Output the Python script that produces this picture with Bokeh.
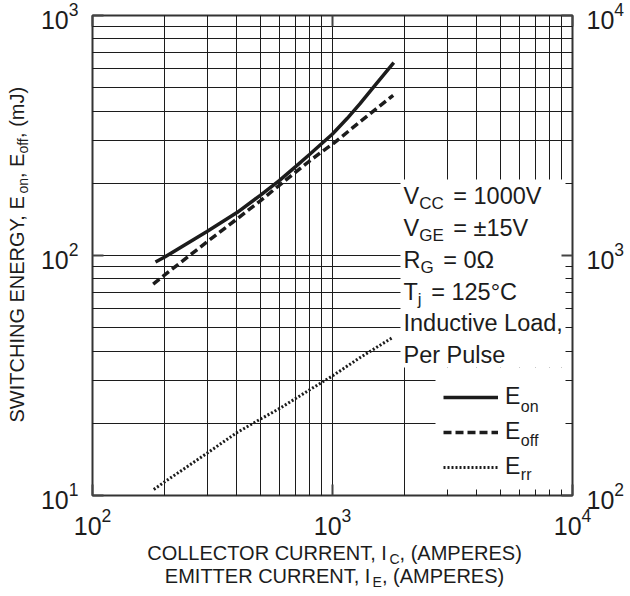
import math
from bokeh.plotting import figure
from bokeh.layouts import row, column
from bokeh.models import (Range1d, LogScale, LogAxis, BoxAnnotation, Label, Legend,
                          LegendItem, CustomJSTickFormatter, FixedTicker)
from bokeh.embed import file_html
from bokeh.resources import INLINE

# ---------------- data ----------------
I_on = [183, 200, 300, 400, 500, 600, 700, 800, 900, 1000, 1150, 1300, 1500, 1800]
E_on = [94, 98.5, 126, 151, 178, 205, 234, 263, 292, 321, 372, 428, 510, 636]

I_off = [179, 200, 300, 400, 500, 600, 700, 800, 900, 1000, 1300, 1790]
E_off = [76, 83, 114, 142, 169, 196, 222, 247, 270, 291, 360, 465]

I_rr = [180, 200, 300, 400, 500, 600, 800, 1000, 1300, 1790]
E_rr = [10.6, 11.4, 15.0, 18.3, 20.8, 23.0, 27.5, 31.5, 37.5, 45.7]

x_range = (1e2, 1e4)
y_range = (1e1, 1e3)
y2_range = (1e2, 1e4)
x_major = [1e2, 1e3, 1e4]
y_major = [1e1, 1e2, 1e3]
y2_major = [1e2, 1e3, 1e4]

conditions = [
    [("V", 0), ("CC", 1), (" = 1000V", 0)],
    [("V", 0), ("GE", 1), (" = ±15V", 0)],
    [("R", 0), ("G", 1), (" = 0Ω", 0)],
    [("T", 0), ("j", 1), (" = 125°C", 0)],
    [("Inductive Load,", 0)],
    [("Per Pulse", 0)],
]
legend_subs = ["on", "off", "rr"]
x_title = [
    [("COLLECTOR CURRENT, I", 0), ("C", 1), (", (AMPERES)", 0)],
    [("EMITTER CURRENT, I", 0), ("E", 1), (", (AMPERES)", 0)],
]
y_title = [("SWITCHING ENERGY, E", 0), ("on", 1), (", E", 0), ("off", 1), (", (mJ)", 0)]

# ---------------- style / layout ----------------
FONT = "Liberation Sans"
INK = "#1c1c1c"
W, H = 630, 596
LW = 32            # left strip (y title) width
MH = 539           # main figure height
FL, FT, FS = 92, 15, 480          # frame left, top, size on the page (px)
BASE_FIX = 0.40    # label baseline correction (fraction of font size)

ADV = {' ': 278, ',': 278, '(': 333, ')': 333, '=': 584, '±': 584, '°': 400, 'Ω': 768,
       'A': 667, 'B': 667, 'C': 722, 'D': 722, 'E': 667, 'F': 611, 'G': 778, 'H': 722,
       'I': 278, 'J': 500, 'K': 667, 'L': 556, 'M': 833, 'N': 722, 'O': 778, 'P': 667,
       'Q': 778, 'R': 722, 'S': 667, 'T': 611, 'U': 722, 'V': 667, 'W': 944, 'X': 667,
       'Y': 667, 'Z': 611, 'a': 556, 'b': 556, 'c': 500, 'd': 556, 'e': 556, 'f': 278,
       'g': 556, 'h': 556, 'i': 222, 'j': 222, 'k': 500, 'l': 222, 'm': 833, 'n': 556,
       'o': 556, 'p': 556, 'q': 556, 'r': 333, 's': 500, 't': 278, 'u': 556, 'v': 500,
       'w': 722, 'x': 500, 'y': 500, 'z': 500}


def tw(s, size):
    return sum(ADV.get(ch, 556) for ch in s) / 1000.0 * size


def X(px):
    lo, hi = math.log10(x_range[0]), math.log10(x_range[1])
    return 10 ** (lo + (px - FL) / FS * (hi - lo))


def Y(py):
    lo, hi = math.log10(y_range[0]), math.log10(y_range[1])
    return 10 ** (hi - (py - FT) / FS * (hi - lo))


def minors(majors):
    out = []
    for m in majors[:-1]:
        out += [m * k for k in range(2, 10)]
    return out


p = figure(width=W - LW, height=MH, x_axis_type="log", y_axis_type="log",
           x_range=Range1d(*x_range), y_range=Range1d(*y_range),
           output_backend="svg", toolbar_location=None,
           min_border_left=FL - LW, min_border_right=W - FL - FS,
           min_border_top=FT, min_border_bottom=MH - FT - FS,
           background_fill_color="white", border_fill_color="white")

p.extra_y_ranges = {"r": Range1d(*y2_range)}
p.extra_y_scales = {"r": LogScale()}
right_ax = LogAxis(y_range_name="r")
p.add_layout(right_ax, "right")
top_ax = LogAxis(formatter=CustomJSTickFormatter(code="return ''"))
p.add_layout(top_ax, "above")

bottom_ax = p.below[0]
left_ax = p.left[0]

xt = FixedTicker(ticks=x_major, minor_ticks=minors(x_major))
yt = FixedTicker(ticks=y_major, minor_ticks=minors(y_major))
y2t = FixedTicker(ticks=y2_major, minor_ticks=minors(y2_major))
bottom_ax.ticker = xt
top_ax.ticker = xt
left_ax.ticker = yt
right_ax.ticker = y2t


def style_axis(ax, standoff, size="25px"):
    ax.axis_line_color = None
    ax.major_tick_in = 11
    ax.major_tick_out = 0
    ax.minor_tick_in = 5
    ax.minor_tick_out = 0
    ax.major_tick_line_color = "#444444"
    ax.major_tick_line_width = 2
    ax.minor_tick_line_color = INK
    ax.minor_tick_line_width = 1
    ax.major_label_text_font = FONT
    ax.major_label_text_font_size = size
    ax.major_label_text_color = INK
    ax.major_label_standoff = standoff


style_axis(bottom_ax, 12)
style_axis(left_ax, 14)
style_axis(right_ax, 14)
style_axis(top_ax, 0, "1px")

p.xgrid[0].ticker = xt
p.ygrid[0].ticker = yt
for g in (p.xgrid[0], p.ygrid[0]):
    g.grid_line_color = INK
    g.grid_line_width = 1
    g.minor_grid_line_color = INK
    g.minor_grid_line_width = 1

p.outline_line_color = "#333333"
p.outline_line_width = 2

# white panels behind the text block and legend
for l, r, t, b in [(400, 565, 179, 367), (435, 565, 367, 489)]:
    p.add_layout(BoxAnnotation(left=X(l), right=X(r), top=Y(t), bottom=Y(b),
                               fill_color="white", fill_alpha=1.0,
                               line_color=None, level="underlay"))

# curves
r_on = p.line(I_on, E_on, line_color=INK, line_width=3.5)
r_off = p.line(I_off, E_off, line_color=INK, line_width=3.5, line_dash="8 4")
r_rr = p.line(I_rr, E_rr, line_color=INK, line_width=3, line_dash="2 2")


def rich(fig, xmap, ymap, pieces, px, py, size, sub_size, drop, angle=0, sub_gap=0,
         fix=BASE_FIX):
    for text, sub in pieces:
        fs = sub_size if sub else size
        lead = len(text) - len(text.lstrip(" "))
        if lead:
            adv = tw(" " * lead, fs)
            if angle == 0:
                px += adv
            else:
                py -= adv
            text = text.lstrip(" ")
        d = (drop if sub else 0) - fix * fs
        if angle == 0:
            lab = Label(x=xmap(px), y=ymap(py + d), text=text,
                        text_align="left", text_baseline="alphabetic")
            px += tw(text, fs) + (sub_gap if sub else 0)
        else:
            lab = Label(x=xmap(px + d), y=ymap(py), text=text,
                        angle=90, angle_units="deg",
                        text_align="left", text_baseline="alphabetic")
            py -= tw(text, fs) + (sub_gap if sub else 0)
        lab.text_font = FONT
        lab.text_font_size = f"{fs}px"
        lab.text_color = INK
        fig.add_layout(lab)


def rich_width(pieces, size, sub_size):
    return sum(tw(t, sub_size if s else size) for t, s in pieces)


# condition block
for i, pieces in enumerate(conditions):
    rich(p, X, Y, pieces, 403, 205 + i * 31.8, 23.5, 17, 5, sub_gap=3)

# legend
leg = Legend(items=[LegendItem(label="E", renderers=[r]) for r in (r_on, r_off, r_rr)],
             location=(443 - FL, FT + FS - 480), glyph_width=55, glyph_height=26,
             label_height=26, spacing=8, padding=0, margin=0, label_standoff=7,
             border_line_color=None, background_fill_alpha=0,
             label_text_font=FONT, label_text_font_size="23px", label_text_color=INK)
p.add_layout(leg)
for i, s in enumerate(legend_subs):
    rich(p, X, Y, [(s, 1)], 443 + 55 + 7 + tw("E", 23), 399 + 34 * i + 13, 23, 16, 0)


# helper strips for the axis titles (page pixel coordinates)
def strip(x0, x1, y0, y1, w, h, bl, br):
    return figure(width=w, height=h, x_range=Range1d(x0, x1), y_range=Range1d(y1, y0),
                  x_axis_type=None, y_axis_type=None, output_backend="svg",
                  toolbar_location=None, min_border=0,
                  min_border_left=bl, min_border_right=br,
                  outline_line_color=None,
                  background_fill_color="white", border_fill_color="white")


ident = lambda v: v
left_strip = strip(0, LW, 0, H, LW, H, 0, 0)
# bottom strip: its frame lines up with the main frame (FL .. FL+FS)
bottom_strip = strip(FL, FL + FS, MH, H, W - LW, H - MH, FL - LW, W - FL - FS)

for i, pieces in enumerate(x_title):
    wdt = rich_width(pieces, 20, 14)
    rich(bottom_strip, ident, ident, pieces, 334 - wdt / 2, 560 + 23 * i, 20, 14, 4)
rich(left_strip, ident, ident, y_title, 22.5, 422, 20, 14, 4, angle=90, fix=0.3)

layout = row(left_strip, column(p, bottom_strip, spacing=0), spacing=0)
open("out.html", "w").write(file_html(layout, INLINE))
